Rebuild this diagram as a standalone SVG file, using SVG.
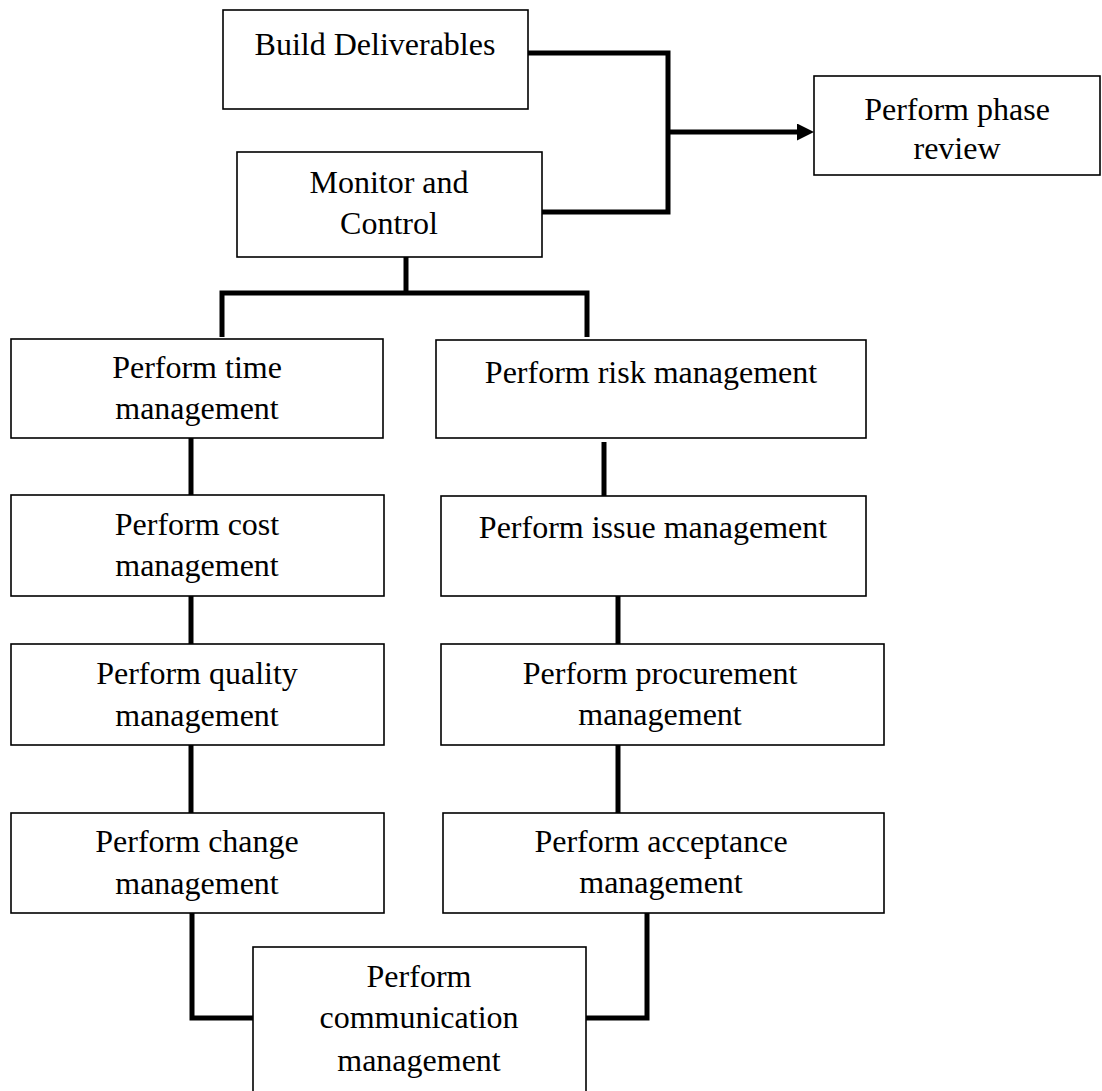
<svg xmlns="http://www.w3.org/2000/svg" width="1102" height="1091" viewBox="0 0 1102 1091">
<style>
.box{fill:#fff;stroke:#000;stroke-width:1.6}
.t{font-family:"Liberation Serif","Times New Roman",serif;font-size:32px;fill:#000;text-anchor:middle}
.c{fill:none;stroke:#000;stroke-width:5;stroke-linejoin:miter;stroke-linecap:butt}
</style>
<defs>
<marker id="arr" viewBox="0 0 17 17" refX="3" refY="8.5" markerWidth="17" markerHeight="17" markerUnits="userSpaceOnUse" orient="auto">
<path d="M0,0 L17,8.5 L0,17 z" fill="#000"/>
</marker>
</defs>
<rect width="1102" height="1091" fill="#fff"/>
<g id="connectors">
<path class="c" d="M528,53 H668 V212 H542"/>
<path class="c" d="M668,132 H800" marker-end="url(#arr)"/>
<path class="c" d="M406,257 V293"/>
<path class="c" d="M222,337 V293 H587 V337"/>
<path class="c" d="M191,438 V495"/>
<path class="c" d="M191,596 V644"/>
<path class="c" d="M191,745 V813"/>
<path class="c" d="M604,442 V497"/>
<path class="c" d="M618,596 V645"/>
<path class="c" d="M618,745 V813"/>
<path class="c" d="M192,913 V1018 H253"/>
<path class="c" d="M647,913 V1018 H586"/>
</g>
<g id="build">
<rect class="box" x="223" y="10" width="305" height="99"/>
<text class="t" x="375" y="55">Build Deliverables</text>
</g>
<g id="phase-review">
<rect class="box" x="814" y="76" width="286" height="99"/>
<text class="t" x="957" y="120">Perform phase</text>
<text class="t" x="957" y="159">review</text>
</g>
<g id="monitor">
<rect class="box" x="237" y="152" width="305" height="105"/>
<text class="t" x="389" y="193">Monitor and</text>
<text class="t" x="389" y="234">Control</text>
</g>
<g id="time">
<rect class="box" x="11" y="339" width="372" height="99"/>
<text class="t" x="197" y="378">Perform time</text>
<text class="t" x="197" y="419">management</text>
</g>
<g id="risk">
<rect class="box" x="436" y="340" width="430" height="98"/>
<text class="t" x="651" y="383">Perform risk management</text>
</g>
<g id="cost">
<rect class="box" x="11" y="495" width="373" height="101"/>
<text class="t" x="197" y="535">Perform cost</text>
<text class="t" x="197" y="576">management</text>
</g>
<g id="issue">
<rect class="box" x="441" y="496" width="425" height="100"/>
<text class="t" x="653" y="538">Perform issue management</text>
</g>
<g id="quality">
<rect class="box" x="11" y="644" width="373" height="101"/>
<text class="t" x="197" y="684">Perform quality</text>
<text class="t" x="197" y="726">management</text>
</g>
<g id="procurement">
<rect class="box" x="441" y="644" width="443" height="101"/>
<text class="t" x="660" y="684">Perform procurement</text>
<text class="t" x="660" y="725">management</text>
</g>
<g id="change">
<rect class="box" x="11" y="813" width="373" height="100"/>
<text class="t" x="197" y="852">Perform change</text>
<text class="t" x="197" y="894">management</text>
</g>
<g id="acceptance">
<rect class="box" x="443" y="813" width="441" height="100"/>
<text class="t" x="661" y="852">Perform acceptance</text>
<text class="t" x="661" y="893">management</text>
</g>
<g id="communication">
<rect class="box" x="253" y="947" width="333" height="150"/>
<text class="t" x="419" y="987">Perform</text>
<text class="t" x="419" y="1028">communication</text>
<text class="t" x="419" y="1071">management</text>
</g>
</svg>
